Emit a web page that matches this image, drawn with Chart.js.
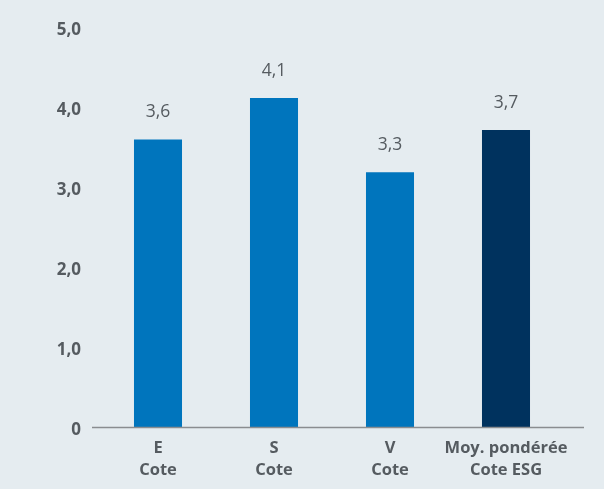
<!DOCTYPE html>
<html>
<head>
<meta charset="utf-8">
<script src="https://cdn.jsdelivr.net/npm/chart.js@4"></script>
<style>
  html, body { margin: 0; padding: 0; background: #e5ecf0; }
  #wrap { width: 604px; height: 489px; }
</style>
</head>
<body>
<div id="wrap"><canvas id="chart" width="604" height="489"></canvas></div>
<script>
// --- data ---
const categories = [["E", "Cote"], ["S", "Cote"], ["V", "Cote"], ["Moy. pondérée", "Cote ESG"]];
const scores = [3.6, 4.12, 3.19, 3.72];
const scoreLabels = ["3,6", "4,1", "3,3", "3,7"];
const yTicks = [0, 1, 2, 3, 4, 5];
const yTickLabels = ["0", "1,0", "2,0", "3,0", "4,0", "5,0"];

const barColors = ["#0075bd", "#0075bd", "#0075bd", "#00325e"];
const textColor = "#555b60";
const fontFamily = "'Open Sans', Lato, sans-serif";

// draws the value above each bar
const valueLabels = {
    id: "valueLabels",
    afterDatasetsDraw(chart) {
        const ctx = chart.ctx;
        const meta = chart.getDatasetMeta(0);
        ctx.save();
        ctx.font = "17.5px " + fontFamily;
        ctx.fillStyle = textColor;
        ctx.textAlign = "center";
        ctx.textBaseline = "middle";
        meta.data.forEach((bar, i) => {
            ctx.fillText(scoreLabels[i], bar.x, bar.y - 27);
        });
        ctx.restore();
    }
};

// baseline runs a bit past the bar area on both sides
const baseLine = {
    id: "baseLine",
    afterDatasetsDraw(chart) {
        const ctx = chart.ctx;
        const y = chart.scales.y.getPixelForValue(0);
        ctx.save();
        ctx.strokeStyle = "#8a8d90";
        ctx.lineWidth = 1.5;
        ctx.beginPath();
        ctx.moveTo(chart.chartArea.left - 8, y);
        ctx.lineTo(chart.chartArea.right + 20, y);
        ctx.stroke();
        ctx.restore();
    }
};

new Chart(document.getElementById("chart").getContext("2d"), {
    type: "bar",
    data: {
        labels: categories,
        datasets: [{
            data: scores,
            backgroundColor: barColors,
            categoryPercentage: 1,
            barPercentage: 0.414
        }]
    },
    options: {
        responsive: false,
        animation: false,
        layout: { padding: { top: 27.5, right: 40, bottom: 0, left: 0 } },
        plugins: { legend: { display: false }, tooltip: { enabled: false } },
        scales: {
            x: {
                grid: { display: false },
                border: { display: false },
                ticks: {
                    color: textColor,
                    padding: 2,
                    autoSkip: false,
                    maxRotation: 0,
                    font: { family: fontFamily, size: 16.5, weight: "bold", lineHeight: 1.33 }
                },
                afterFit(scale) { scale.height = 61.5; }
            },
            y: {
                min: 0,
                max: 5,
                grid: { display: false },
                border: { display: false },
                afterBuildTicks(scale) { scale.ticks = yTicks.map(v => ({ value: v })); },
                ticks: {
                    color: textColor,
                    padding: 11,
                    labelOffset: 2.5,
                    font: { family: fontFamily, size: 17, weight: "bold" },
                    callback: (v) => yTickLabels[yTicks.indexOf(v)]
                },
                afterFit(scale) { scale.width = 100; }
            }
        }
    },
    plugins: [valueLabels, baseLine]
});
</script>
</body>
</html>
